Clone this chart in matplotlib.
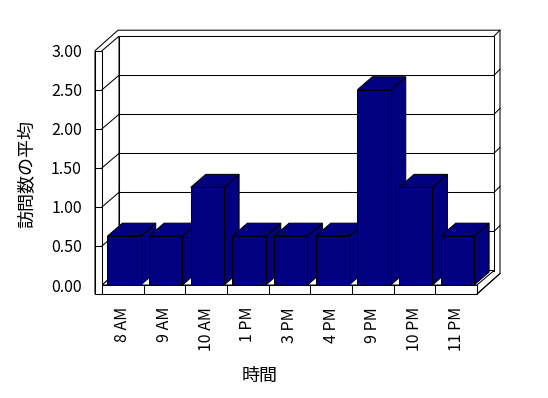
import matplotlib
matplotlib.use('Agg')
import matplotlib.pyplot as plt
from matplotlib.patches import Polygon

hours = ['8 AM', '9 AM', '10 AM', '1 PM', '3 PM', '4 PM', '9 PM', '10 PM', '11 PM']
visits = [0.625, 0.625, 1.25, 0.625, 0.625, 0.625, 2.5, 1.25, 0.625]
yticks = [0.0, 0.5, 1.0, 1.5, 2.0, 2.5, 3.0]
ylabels = ['%.2f' % t for t in yticks]

W, H = 548, 398
LEFT, RIGHT, BASE, TOP = 102, 477, 285, 50.7   # front plane, pixels
NAVY = '#000080'
LW = 0.75

plt.rcParams['font.family'] = ['Noto Sans CJK JP', 'DejaVu Sans']

fig = plt.figure(figsize=(W / 100, H / 100), dpi=100)
ax = fig.add_axes([LEFT / W, 1 - BASE / H, (RIGHT - LEFT) / W, (BASE - TOP) / H])
n = len(hours)
ymax = yticks[-1]
ax.set_xlim(0, n)
ax.set_ylim(0, ymax)
sx = (RIGHT - LEFT) / n
sy = (BASE - TOP) / ymax


def off(px, py):
    # pixel offset -> data offset
    return px / sx, py / sy


bx, by = off(17, 14.5)     # depth of the plot box
tx, ty = off(6, 6)         # thickness of back wall
lw = off(7, 0)[0]          # thickness of left wall
fh = off(0, 9)[1]          # thickness of floor
cx, cy = off(15, 13)       # depth of a bar
inset, width = 0.13, 0.80


def poly(pts, z, fc='white'):
    ax.add_patch(Polygon(pts, closed=True, facecolor=fc, edgecolor='black',
                         linewidth=LW, zorder=z, clip_on=False))


def line(xs, ys, z=3):
    ax.plot(xs, ys, color='black', linewidth=LW, zorder=z, clip_on=False)


# frame silhouette
poly([(-lw, -fh), (-lw, ymax), (-lw + bx + tx, ymax + by + ty),
      (n + bx + tx, ymax + by + ty), (n + bx + tx, by + ty - fh), (n, -fh)], 1)
# back wall, left wall inner face, floor
poly([(bx, by), (n + bx, by), (n + bx, ymax + by), (bx, ymax + by)], 2)
poly([(0, 0), (0, ymax), (bx, ymax + by), (bx, by)], 2)
poly([(0, 0), (n, 0), (n + bx, by), (bx, by)], 2)
# front faces of left wall and floor
poly([(-lw, -fh), (0, -fh), (0, ymax), (-lw, ymax)], 2)
poly([(0, -fh), (n, -fh), (n, 0), (0, 0)], 2)
# right side of floor and back wall
line([n, n + bx + tx], [-fh, by + ty - fh])
line([n + bx, n + bx + tx], [ymax + by, ymax + by + ty])

# gridlines
for t in yticks[1:-1]:
    line([-lw, 0], [t, t])
    line([0, bx], [t, t + by])
    line([bx, n + bx], [t + by, t + by])
    line([n + bx, n + bx + tx], [t + by, t + by + ty])

# category separators on the floor front
for i in range(1, n):
    line([i, i], [-fh, 0])

# bars
xs = [i + inset for i in range(n)]
bars = ax.bar(xs, visits, width=width, align='edge', color=NAVY,
              edgecolor='black', linewidth=LW)
for i, (x0, v, b) in enumerate(zip(xs, visits, bars)):
    x1 = x0 + width
    z = 10 + 3 * i
    poly([(x1, 0), (x1, v), (x1 + cx, v + cy), (x1 + cx, cy)], z, NAVY)
    poly([(x0, v), (x1, v), (x1 + cx, v + cy), (x0 + cx, v + cy)], z + 1, NAVY)
    b.set_zorder(z + 2)

ax.set_yticks(yticks)
ax.set_yticklabels(ylabels, fontsize=11.5)
ax.set_xticks([i + 0.5 for i in range(n)])
ax.set_xticklabels(hours, rotation=90, fontsize=11.5)
ax.tick_params(axis='y', length=0, pad=14.4)
ax.tick_params(axis='x', length=0, pad=15.8)
for s in ax.spines.values():
    s.set_visible(False)
ax.patch.set_visible(False)

fig.text(27.5 / W, 1 - 174.5 / H, '訪問数の平均', rotation=90, fontsize=13,
         ha='center', va='center')
fig.text(259.5 / W, 1 - 375.5 / H, '時間', fontsize=13, ha='center', va='center')

fig.savefig('out.png', dpi=100, facecolor='white')
